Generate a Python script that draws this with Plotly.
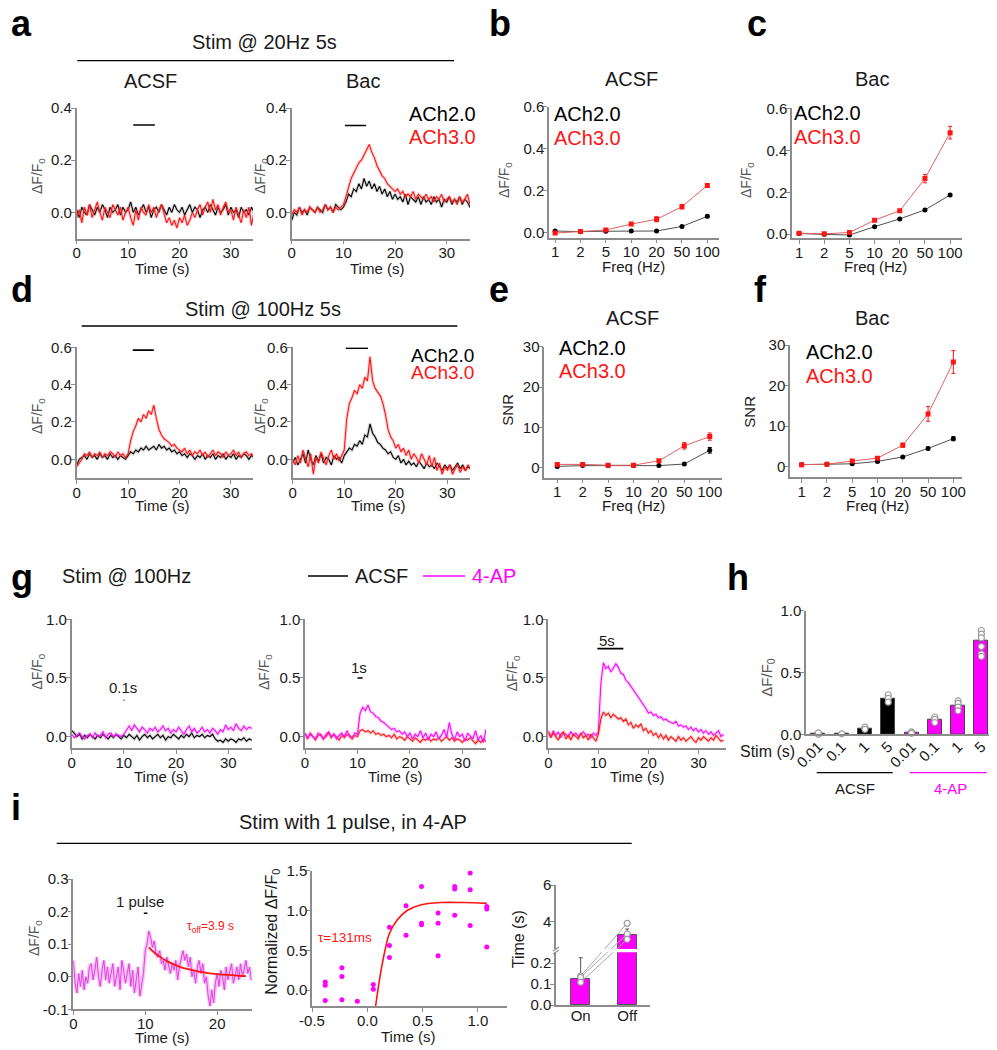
import plotly.graph_objects as go

# reference picture size and page offset (the page body has an 8px margin)
W, H = 997, 1050
OFF = 8
FW, FH = W - OFF, H - OFF
FONT = "Liberation Sans, Arial, sans-serif"
RED = "#ff1414"
MAG = "#ff00ff"
AXC = "#8c8c8c"
TXT = "#1a1a1a"
GRY = "#555555"

# ---------------- DATA ----------------
TIME_35 = [round(i * 0.5, 2) for i in range(71)]      # sampling grid, 0.5 s
TIME_25 = [round(i * 0.25, 2) for i in range(101)]    # sampling grid, 0.25 s

# panel a (20 Hz, 5 s)
A_ACSF_ACH2 = [0.01,-0.02,0.02,0.0,-0.01,0.03,0.01,-0.01,0.02,0.0,
               0.03,0.01,-0.02,0.02,0.0,0.01,0.03,-0.01,0.02,0.0,
               0.01,0.04,0.0,0.02,-0.01,0.01,0.03,0.0,0.02,-0.02,
               0.01,0.02,0.0,0.03,0.01,-0.01,0.02,0.0,0.03,0.01,
               0.0,0.02,-0.01,0.01,0.03,0.0,0.02,0.01,-0.02,0.01,
               0.02,0.0,0.03,0.01,-0.01,0.02,0.0,0.01,0.03,-0.01,
               0.02,0.0,0.01,-0.02,0.02,0.0,0.01,-0.01,0.02,0.0,0.01]
A_ACSF_ACH3 = [-0.02,0.01,-0.04,0.02,-0.01,0.03,-0.02,0.01,0.04,0.0,
               -0.03,0.02,0.0,-0.02,0.03,0.01,-0.01,0.02,-0.03,0.0,
               0.02,-0.02,-0.05,0.01,-0.03,0.02,0.0,-0.01,0.03,0.0,
               0.02,-0.02,0.01,0.03,-0.01,-0.04,-0.02,-0.05,-0.03,-0.06,
               -0.02,-0.04,-0.01,-0.05,-0.03,0.0,-0.02,0.01,0.03,-0.01,
               0.02,0.04,0.0,0.05,0.01,0.03,-0.01,0.02,0.04,0.0,
               0.01,-0.03,0.02,-0.01,-0.04,0.01,-0.02,0.02,-0.05,0.0,-0.03]
A_BAC_ACH2 = [-0.03,0.0,-0.01,0.02,0.0,0.01,-0.01,0.02,0.01,0.0,
              0.02,0.01,0.0,0.03,0.01,0.02,0.0,0.03,0.02,0.01,
              0.02,0.04,0.07,0.06,0.09,0.08,0.11,0.09,0.13,0.1,
              0.12,0.09,0.11,0.08,0.1,0.07,0.09,0.06,0.08,0.05,
              0.07,0.05,0.06,0.04,0.07,0.03,0.06,0.05,0.04,0.06,
              0.03,0.06,0.04,0.05,0.03,0.06,0.04,0.05,0.02,0.05,
              0.04,0.06,0.03,0.05,0.04,0.06,0.03,0.05,0.04,0.02,0.04]
A_BAC_ACH3 = [-0.01,0.01,0.0,0.02,-0.01,0.01,0.0,0.02,0.01,0.0,
              0.02,0.0,0.01,0.03,0.01,0.02,0.0,0.02,0.01,0.02,
              0.03,0.06,0.1,0.13,0.15,0.17,0.19,0.2,0.22,0.24,
              0.26,0.23,0.21,0.18,0.16,0.14,0.13,0.11,0.1,0.09,
              0.08,0.09,0.07,0.08,0.06,0.07,0.06,0.08,0.05,0.07,
              0.06,0.05,0.07,0.05,0.06,0.04,0.06,0.05,0.07,0.04,
              0.05,0.06,0.04,0.05,0.03,0.06,0.04,0.05,0.07,0.03,0.04]
A_STIM = [(11.0, 15.2, 0.335), (10.3, 14.4, 0.333)]

# panel d (100 Hz, 5 s)
D_ACSF_ACH2 = [-0.03,0.0,0.01,0.02,0.0,0.03,0.01,0.02,0.0,0.03,
               0.01,0.02,0.0,0.03,0.01,0.02,0.0,0.02,0.01,0.0,
               0.02,0.04,0.03,0.05,0.04,0.06,0.05,0.07,0.05,0.06,
               0.07,0.05,0.08,0.06,0.07,0.05,0.06,0.04,0.05,0.03,
               0.04,0.02,0.03,0.01,0.03,0.02,0.0,0.02,0.01,0.03,
               0.0,0.02,0.01,0.03,0.0,0.02,0.01,0.03,0.0,0.02,
               0.01,0.03,0.0,0.02,0.01,0.03,0.02,0.0,0.02,0.01,0.02]
D_ACSF_ACH3 = [-0.04,-0.02,0.0,0.03,0.02,0.04,0.01,0.03,0.02,0.04,
               0.01,0.03,0.02,0.04,0.03,0.01,0.04,0.02,0.03,0.01,
               0.03,0.1,0.15,0.18,0.22,0.2,0.24,0.22,0.26,0.24,
               0.29,0.22,0.16,0.13,0.11,0.1,0.09,0.07,0.08,0.06,
               0.05,0.04,0.06,0.03,0.05,0.02,0.04,0.03,0.05,0.02,
               0.04,0.01,0.03,0.05,0.02,0.04,0.03,0.01,0.04,0.02,
               0.03,0.05,0.02,0.04,0.01,0.03,0.04,0.02,0.03,0.01,0.03]
D_BAC_ACH2 = [-0.02,0.01,-0.03,0.0,0.03,-0.02,0.05,0.0,-0.03,0.02,
              -0.01,0.03,-0.02,0.01,0.0,-0.03,0.02,0.0,0.01,-0.02,
              0.02,0.04,0.06,0.05,0.08,0.07,0.1,0.08,0.13,0.12,
              0.19,0.14,0.12,0.09,0.08,0.06,0.05,0.03,0.04,0.01,
              0.0,0.02,-0.02,0.0,-0.03,-0.01,-0.03,-0.02,-0.04,-0.01,
              -0.03,-0.05,-0.02,-0.04,-0.03,-0.05,-0.02,-0.04,-0.06,-0.03,
              -0.05,-0.03,-0.06,-0.04,-0.02,-0.05,-0.03,-0.06,-0.04,-0.05,-0.06]
D_BAC_ACH3 = [0.0,-0.03,0.02,-0.02,0.05,0.0,-0.04,0.03,-0.08,0.01,
              -0.02,0.04,0.0,-0.03,0.02,0.05,0.0,0.03,-0.01,0.02,
              0.05,0.22,0.3,0.33,0.37,0.35,0.4,0.38,0.44,0.42,
              0.55,0.42,0.38,0.36,0.34,0.3,0.24,0.16,0.12,0.1,
              0.06,0.08,0.04,0.06,0.02,0.05,0.0,0.03,0.01,-0.02,
              0.03,0.0,-0.03,0.02,-0.04,0.01,-0.06,-0.02,-0.08,-0.04,
              -0.06,-0.03,-0.08,-0.05,-0.03,-0.07,-0.04,-0.06,-0.03,-0.05,-0.04]
D_STIM = [(10.9, 15.0, 0.585), (10.3, 14.6, 0.595)]

# panels b, c, e, f
FREQ_LABELS = ["1", "2", "5", "10", "20", "50", "100"]
B_ACH2 = [0.006, 0.003, 0.005, 0.006, 0.006, 0.028, 0.076]
B_ACH2_ERR = [0.003, 0.002, 0.002, 0.002, 0.002, 0.003, 0.006]
B_ACH3 = [-0.004, 0.004, 0.011, 0.039, 0.062, 0.122, 0.224]
B_ACH3_ERR = [0.003, 0.003, 0.004, 0.005, 0.012, 0.01, 0.005]
C_ACH2 = [0.003, 0.0, -0.004, 0.036, 0.073, 0.116, 0.187]
C_ACH2_ERR = [0.003, 0.002, 0.002, 0.003, 0.003, 0.004, 0.006]
C_ACH3 = [0.005, 0.002, 0.008, 0.067, 0.112, 0.265, 0.484]
C_ACH3_ERR = [0.004, 0.004, 0.005, 0.006, 0.005, 0.02, 0.03]
E_ACH2 = [0.3, 0.5, 0.5, 0.5, 0.5, 0.9, 4.3]
E_ACH2_ERR = [0.1, 0.1, 0.1, 0.1, 0.1, 0.2, 0.7]
E_ACH3 = [0.8, 0.8, 0.6, 0.6, 1.7, 5.4, 7.7]
E_ACH3_ERR = [0.2, 0.2, 0.2, 0.2, 0.3, 0.8, 0.9]
F_ACH2 = [0.5, 0.6, 0.7, 1.3, 2.4, 4.5, 6.9]
F_ACH2_ERR = [0.1, 0.1, 0.1, 0.2, 0.2, 0.3, 0.5]
F_ACH3 = [0.5, 0.6, 1.4, 2.1, 5.3, 13.0, 25.8]
F_ACH3_ERR = [0.1, 0.1, 0.3, 0.3, 0.5, 1.8, 2.8]

# panel g (100 Hz, 0.1 / 1 / 5 s)
G1_ACSF = [0.05,0.03,0.0,0.02,-0.02,0.01,-0.01,0.02,0.0,-0.02,
           0.01,-0.01,0.02,0.0,-0.02,0.01,-0.01,0.02,0.0,-0.02,
           0.01,-0.01,0.02,0.0,-0.02,0.01,-0.03,0.0,0.02,-0.01,
           0.01,-0.02,0.0,0.02,-0.01,0.01,-0.03,0.0,-0.01,0.02,
           0.0,-0.02,0.01,-0.01,0.02,0.0,0.03,-0.01,0.01,0.0,
           0.02,-0.01,0.01,0.0,0.02,-0.02,-0.04,-0.03,-0.05,-0.02,
           -0.04,-0.02,-0.03,-0.05,-0.02,-0.03,-0.01,-0.04,-0.02,-0.03,-0.04]
G1_4AP = [0.02,-0.01,0.01,0.03,0.0,-0.02,0.01,0.02,-0.01,0.03,
          0.0,0.01,0.04,-0.01,0.02,0.03,0.0,0.02,0.01,0.0,
          0.02,0.06,0.09,0.05,0.1,0.07,0.04,0.08,0.06,0.03,
          0.07,0.05,0.08,0.04,0.06,0.09,0.05,0.07,0.03,0.06,
          0.04,0.08,0.05,0.02,0.06,0.09,0.04,0.07,0.03,0.05,
          0.08,0.04,0.06,0.03,0.07,0.05,0.02,0.06,0.04,0.1,
          0.06,0.08,0.05,0.11,0.07,0.05,0.09,0.06,0.08,0.07,0.09]
G2_ACSF = [0.02,-0.02,0.03,0.0,-0.03,0.01,0.02,-0.02,0.0,0.03,
           -0.01,0.02,0.0,-0.03,0.01,-0.01,0.02,0.0,-0.02,0.01,
           0.0,0.05,0.06,0.04,0.05,0.03,0.05,0.02,0.03,0.01,
           0.02,0.0,0.01,-0.01,0.02,-0.02,0.0,-0.01,-0.03,0.0,
           -0.02,-0.04,-0.01,-0.03,-0.05,-0.02,-0.03,-0.01,-0.04,-0.02,
           -0.03,-0.01,-0.04,-0.02,0.0,-0.03,-0.01,-0.04,-0.02,-0.03,
           -0.05,-0.02,-0.03,-0.01,-0.04,-0.06,-0.03,-0.05,-0.02,-0.04,-0.03]
G2_4AP = [0.03,-0.01,0.02,0.0,-0.02,0.03,0.01,-0.02,0.02,0.04,
          0.0,0.02,-0.02,0.01,0.03,0.0,0.05,0.01,-0.01,0.03,
          0.02,0.2,0.25,0.22,0.27,0.21,0.2,0.17,0.16,0.13,
          0.12,0.1,0.08,0.06,0.07,0.04,0.05,0.02,0.04,0.0,
          0.03,-0.02,0.02,0.0,0.05,-0.01,0.03,-0.03,0.02,0.0,
          0.04,-0.02,0.01,0.06,-0.01,0.12,0.02,-0.03,0.04,0.0,
          0.02,-0.04,0.03,0.0,-0.02,0.05,-0.03,0.01,-0.05,0.06,0.02]
G3_ACSF = [0.05,-0.01,0.03,0.0,-0.03,0.02,0.04,-0.02,0.01,-0.03,
           0.02,0.0,-0.02,0.03,-0.01,0.01,-0.03,0.02,-0.01,-0.04,
           0.02,0.15,0.21,0.18,0.2,0.16,0.19,0.17,0.15,0.16,
           0.13,0.15,0.1,0.12,0.07,0.1,0.08,0.11,0.05,0.07,
           0.03,0.05,0.01,0.03,-0.01,0.02,-0.02,0.01,-0.03,0.0,
           -0.02,-0.04,0.0,-0.03,-0.01,-0.04,-0.02,0.0,-0.03,-0.05,
           -0.01,-0.03,0.0,-0.02,-0.04,-0.01,-0.03,0.01,-0.02,-0.04,-0.03]
G3_4AP = [0.03,0.0,0.05,0.01,0.04,-0.01,0.03,0.02,0.0,0.04,
          0.01,0.03,0.0,0.02,0.04,0.01,0.02,-0.01,0.03,0.01,
          0.04,0.45,0.63,0.58,0.6,0.55,0.58,0.62,0.59,0.54,
          0.53,0.48,0.46,0.43,0.4,0.36,0.34,0.3,0.28,0.24,
          0.2,0.21,0.18,0.19,0.16,0.17,0.14,0.15,0.13,0.12,
          0.11,0.13,0.09,0.1,0.08,0.09,0.06,0.08,0.05,0.07,
          0.04,0.06,0.03,0.05,0.02,0.04,0.01,0.03,0.05,0.0,0.02]
G_STIM = [(9.95, 10.1, 0.31), (10.0, 11.0, 0.50), (9.8, 15.0, 0.75)]

# panel h
H_LABELS = ["0.01", "0.1", "1", "5", "0.01", "0.1", "1", "5"]
H_MEAN = [0.002, 0.004, 0.045, 0.285, 0.012, 0.115, 0.235, 0.76]
H_ERR = [0.003, 0.002, 0.005, 0.015, 0.003, 0.008, 0.015, 0.04]
H_DOTS = [[0.0, 0.012], [0.004, -0.002], [0.058, 0.04], [0.32, 0.29, 0.26],
          [0.02, 0.008], [0.14, 0.12, 0.095], [0.27, 0.25, 0.22, 0.19],
          [0.84, 0.81, 0.78, 0.71, 0.65, 0.63]]

# panel i
I1_TRACE = [0.05,-0.02,-0.05,0.01,-0.03,0.02,-0.04,0.0,-0.02,0.03,
            0.04,-0.01,0.02,0.06,0.0,-0.03,0.02,0.05,-0.01,0.03,
            -0.02,0.01,0.04,-0.03,0.0,0.03,-0.04,0.05,0.02,-0.02,
            0.01,0.04,-0.03,0.02,-0.05,0.0,0.03,-0.06,-0.02,0.01,
            0.08,0.1,0.14,0.12,0.09,0.11,0.07,0.06,0.08,0.04,
            0.05,0.02,0.06,0.03,0.01,0.04,0.02,0.05,-0.01,0.03,
            0.06,0.08,0.05,0.07,0.03,0.06,0.0,0.02,-0.02,0.03,
            0.05,0.01,0.04,-0.02,0.0,-0.06,-0.09,-0.04,-0.08,-0.02,
            0.01,-0.03,0.02,0.0,-0.04,0.03,-0.01,0.02,0.04,-0.02,
            0.01,0.03,-0.01,0.04,0.0,0.02,0.05,0.01,0.03,-0.01,
            0.0]
I1_FIT_T = [10.5, 11, 11.5, 12, 13, 14, 15, 16, 17, 18, 19, 20, 21, 22, 23, 24]
I1_FIT_Y = [0.090, 0.079, 0.070, 0.062, 0.048, 0.038, 0.029, 0.023, 0.018,
            0.014, 0.010, 0.008, 0.006, 0.005, 0.003, 0.002]
I1_STIM = (9.8, 10.3, 0.195)
I2_T = [-0.38, -0.38, -0.38, -0.23, -0.23, -0.23, -0.09, 0.054, 0.054,
        0.2, 0.2, 0.2, 0.35, 0.35, 0.49, 0.49, 0.49, 0.64, 0.64, 0.64,
        0.79, 0.79, 0.79, 0.93, 0.93, 0.93, 1.08, 1.08, 1.08]
I2_Y = [0.10, 0.06, -0.13, 0.28, 0.17, -0.12, -0.14, 0.07, 0.01,
        0.79, 0.56, 0.41, 1.06, 0.69, 1.30, 0.84, 0.82, 0.97, 0.84, 0.43,
        1.30, 1.27, 0.94, 1.47, 1.26, 0.81, 1.05, 1.02, 0.54]
I2_FIT_T = [0.075, 0.115, 0.16, 0.2, 0.27, 0.36, 0.48, 0.66, 0.87, 1.08]
I2_FIT_Y = [-0.2, 0.17, 0.5, 0.71, 0.88, 1.0, 1.07, 1.1, 1.1, 1.09]
I3_LABELS = ["On", "Off"]
I3_MEAN = [0.125, 3.27]
I3_ERR = [0.10, 0.33]
I3_ON_DOTS = [0.138, 0.132, 0.108]
I3_OFF_DOTS = [3.91, 3.33, 3.04]

# ---------------- helpers ----------------
fig = go.Figure()
layout_axes = {}
ann = []
shapes = []


def PX(x):
    return (x - OFF) / FW


def PY(y):
    return 1 - (y - OFF) / FH


def xr(n):
    return "x" if n == 1 else f"x{n}"


def yr(n):
    return "y" if n == 1 else f"y{n}"


def axes(n, xpx, ypx, xrange, yrange, xt=None, xtt=None, yt=None, ytt=None,
         xfmt=None, yfmt=None, xticks="outside", xangle=None):
    key = "" if n == 1 else str(n)
    layout_axes[f"xaxis{key}"] = dict(
        domain=[PX(xpx[0]), PX(xpx[1])], range=xrange, anchor=yr(n),
        showline=True, linecolor=AXC, linewidth=1.5, ticks=xticks, ticklen=4,
        tickcolor=AXC, tickwidth=1.2, showgrid=False, zeroline=False,
        tickfont=dict(family=FONT, size=15, color=TXT), tickvals=xt,
        ticktext=xtt, tickformat=xfmt, tickangle=xangle, fixedrange=True,
        automargin=False, ticklabelstandoff=-4)
    layout_axes[f"yaxis{key}"] = dict(
        domain=[PY(ypx[1]), PY(ypx[0])], range=yrange, anchor=xr(n),
        showline=True, linecolor=AXC, linewidth=1.5, ticks="outside", ticklen=4,
        tickcolor=AXC, tickwidth=1.2, showgrid=False, zeroline=False,
        tickfont=dict(family=FONT, size=15, color=TXT), tickvals=yt,
        ticktext=ytt, tickformat=yfmt, fixedrange=True, automargin=False,
        ticklabelstandoff=-4)


def T(x, y, s, size=15, color=TXT, angle=0, bold=False, xa="center", ya="middle"):
    ann.append(dict(x=PX(x), y=PY(y), xref="paper", yref="paper",
                    text=f"<b>{s}</b>" if bold else s, showarrow=False,
                    font=dict(family=FONT, size=size, color=color),
                    textangle=angle, xanchor=xa, yanchor=ya))


def PL(x0, y0, x1, y1, color="black", width=1.3):
    shapes.append(dict(type="line", xref="paper", yref="paper", x0=PX(x0),
                       y0=PY(y0), x1=PX(x1), y1=PY(y1),
                       line=dict(color=color, width=width)))


def DL(n, x0, x1, y, color="black", width=1.6):
    shapes.append(dict(type="line", xref=xr(n), yref=yr(n), x0=x0, x1=x1,
                       y0=y, y1=y, line=dict(color=color, width=width)))


def trace(n, t, y, color, band, width=1.1, bw=3.2):
    fig.add_trace(go.Scatter(x=t, y=y, mode="lines", xaxis=xr(n), yaxis=yr(n),
                             line=dict(color=band, width=bw), hoverinfo="skip"))
    fig.add_trace(go.Scatter(x=t, y=y, mode="lines", xaxis=xr(n), yaxis=yr(n),
                             line=dict(color=color, width=width), hoverinfo="skip"))


def freq_plot(n, y2, e2, y3, e3):
    xs = list(range(len(FREQ_LABELS)))
    fig.add_trace(go.Scatter(x=xs, y=y2, mode="lines+markers", xaxis=xr(n), yaxis=yr(n),
                             line=dict(color="#505050", width=1),
                             marker=dict(color="black", size=5),
                             error_y=dict(type="data", array=e2, color="black",
                                          thickness=1, width=2)))
    fig.add_trace(go.Scatter(x=xs, y=y3, mode="lines+markers", xaxis=xr(n), yaxis=yr(n),
                             line=dict(color="#e06060", width=1),
                             marker=dict(color=RED, size=5, symbol="square"),
                             error_y=dict(type="data", array=e3, color=RED,
                                          thickness=1, width=2)))


BK_BAND = "rgba(120,120,120,0.3)"
RD_BAND = "rgba(255,100,100,0.3)"
MG_BAND = "rgba(255,100,255,0.28)"

T_TICKS = [0, 10, 20, 30]
FREQ_POS = list(range(len(FREQ_LABELS)))

# ---- panel a ----
axes(1, (76.7, 253), (108, 238.5), [0, 34.3], [-0.1, 0.4], xt=T_TICKS, yt=[0, 0.2, 0.4], yfmt=".1f")
axes(2, (291.7, 470), (108, 238.5), [0, 34.5], [-0.1, 0.4], xt=T_TICKS, yt=[0, 0.2, 0.4], yfmt=".1f")
trace(1, TIME_35, A_ACSF_ACH2, "black", BK_BAND)
trace(1, TIME_35, A_ACSF_ACH3, RED, RD_BAND)
trace(2, TIME_35, A_BAC_ACH2, "black", BK_BAND)
trace(2, TIME_35, A_BAC_ACH3, RED, RD_BAND)
for n, (s0, s1, yy) in zip([1, 2], A_STIM):
    DL(n, s0, s1, yy)

# ---- panels b, c ----
axes(3, (549, 719), (106.7, 237.5), [-0.24, 6.46], [-0.025, 0.6], xt=FREQ_POS, xtt=FREQ_LABELS,
     yt=[0, 0.2, 0.4, 0.6], yfmt=".1f")
axes(4, (792, 961.7), (108.3, 238), [-0.28, 6.46], [-0.018, 0.6], xt=FREQ_POS, xtt=FREQ_LABELS,
     yt=[0, 0.2, 0.4, 0.6], yfmt=".1f")
freq_plot(3, B_ACH2, B_ACH2_ERR, B_ACH3, B_ACH3_ERR)
freq_plot(4, C_ACH2, C_ACH2_ERR, C_ACH3, C_ACH3_ERR)

# ---- panel d ----
axes(5, (76.7, 253), (347.3, 478), [0, 34.3], [-0.1, 0.6], xt=T_TICKS, yt=[0, 0.2, 0.4, 0.6], yfmt=".1f")
axes(6, (292.7, 470), (347.3, 478), [0, 34.4], [-0.1, 0.6], xt=T_TICKS, yt=[0, 0.2, 0.4, 0.6], yfmt=".1f")
trace(5, TIME_35, D_ACSF_ACH2, "black", BK_BAND)
trace(5, TIME_35, D_ACSF_ACH3, RED, RD_BAND)
trace(6, TIME_35, D_BAC_ACH2, "black", BK_BAND)
trace(6, TIME_35, D_BAC_ACH3, RED, RD_BAND)
for n, (s0, s1, yy) in zip([5, 6], D_STIM):
    DL(n, s0, s1, yy)

# ---- panels e, f ----
axes(7, (544.3, 721.7), (346.7, 477.7), [-0.51, 6.47], [-2.5, 30], xt=FREQ_POS, xtt=FREQ_LABELS,
     yt=[0, 10, 20, 30])
axes(8, (790, 961.7), (345, 476.8), [-0.46, 6.33], [-2.5, 30], xt=FREQ_POS, xtt=FREQ_LABELS,
     yt=[0, 10, 20, 30])
freq_plot(7, E_ACH2, E_ACH2_ERR, E_ACH3, E_ACH3_ERR)
freq_plot(8, F_ACH2, F_ACH2_ERR, F_ACH3, F_ACH3_ERR)

# ---- panel g ----
axes(9, (71.7, 251.7), (619.3, 748.3), [0, 34.5], [-0.1, 1.0], xt=T_TICKS, yt=[0, 0.5, 1.0], yfmt=".1f")
axes(10, (305, 486), (619.3, 748.3), [0, 34.5], [-0.1, 1.0], xt=T_TICKS, yt=[0, 0.5, 1.0], yfmt=".1f")
axes(11, (548.3, 726), (619.3, 748.3), [0, 35.5], [-0.1, 1.0], xt=T_TICKS, yt=[0, 0.5, 1.0], yfmt=".1f")
trace(9, TIME_35, G1_ACSF, "black", BK_BAND)
trace(9, TIME_35, G1_4AP, MAG, MG_BAND)
trace(10, TIME_35, G2_ACSF, RED, RD_BAND)
trace(10, TIME_35, G2_4AP, MAG, MG_BAND)
trace(11, TIME_35, G3_4AP, MAG, MG_BAND)
trace(11, TIME_35, G3_ACSF, RED, RD_BAND)
for n, (s0, s1, yy) in zip([9, 10, 11], G_STIM):
    DL(n, s0, s1, yy, width=1.6)

# ---- panel h ----
HX = list(range(len(H_LABELS)))
axes(12, (806, 990), (610.7, 734.3), [-0.53, 7.37], [0, 1.0], xt=HX, xtt=H_LABELS,
     yt=[0, 0.5, 1.0], yfmt=".1f", xticks="", xangle=-45)
fig.add_trace(go.Bar(x=HX, y=H_MEAN, width=0.6, xaxis=xr(12), yaxis=yr(12),
                     marker=dict(color=["black"] * 4 + [MAG] * 4,
                                 line=dict(color="#444", width=1)),
                     error_y=dict(type="data", array=H_ERR, color="#444", thickness=1, width=2),
                     hoverinfo="skip"))
dx, dy = [], []
for i, vals in enumerate(H_DOTS):
    for v in vals:
        dx.append(i)
        dy.append(v)
fig.add_trace(go.Scatter(x=dx, y=dy, mode="markers", xaxis=xr(12), yaxis=yr(12), cliponaxis=False,
                         marker=dict(color="white", size=6, line=dict(color="#9a9a9a", width=1.2)),
                         hoverinfo="skip"))

# ---- panel i ----
axes(13, (73.3, 251.7), (879, 1009.3), [0, 24.8], [-0.1, 0.3], xt=[0, 10, 20],
     yt=[-0.1, 0, 0.1, 0.2, 0.3], ytt=["-0.1", "0.0", "0.1", "0.2", "0.3"])
fig.add_trace(go.Scatter(x=TIME_25, y=I1_TRACE, mode="lines", xaxis=xr(13), yaxis=yr(13),
                         line=dict(color="rgba(240,120,240,0.45)", width=4), hoverinfo="skip"))
fig.add_trace(go.Scatter(x=TIME_25, y=I1_TRACE, mode="lines", xaxis=xr(13), yaxis=yr(13),
                         line=dict(color="#e040e0", width=1), hoverinfo="skip"))
fig.add_trace(go.Scatter(x=I1_FIT_T, y=I1_FIT_Y, mode="lines", xaxis=xr(13), yaxis=yr(13),
                         line=dict(color=RED, width=1.8, shape="spline"), hoverinfo="skip"))
DL(13, I1_STIM[0], I1_STIM[1], I1_STIM[2], width=1.6)

axes(14, (312, 506.7), (870.7, 1006), [-0.5, 1.26], [-0.2, 1.5], xt=[-0.5, 0, 0.5, 1.0],
     xtt=["-0.5", "0.0", "0.5", "1.0"], yt=[0, 0.5, 1.0, 1.5], yfmt=".1f")
fig.add_trace(go.Scatter(x=I2_T, y=I2_Y, mode="markers", xaxis=xr(14), yaxis=yr(14),
                         marker=dict(color=MAG, size=5), hoverinfo="skip"))
fig.add_trace(go.Scatter(x=I2_FIT_T, y=I2_FIT_Y, mode="lines", xaxis=xr(14), yaxis=yr(14),
                         line=dict(color=RED, width=1.6, shape="spline"), hoverinfo="skip"))


# broken axis: 0-0.26 s below the break, ~2.4-6 s above it
def brk(v):
    return 10 * v if v < 0.3 else 3.967 + (v - 4) * 0.8735


axes(15, (556, 650), (885, 1005), [-0.53, 1.49], [0, brk(6)], xt=[0, 1], xtt=I3_LABELS,
     yt=[brk(v) for v in [0, 0.1, 0.2, 4, 6]], ytt=["0.0", "0.1", "0.2", "4", "6"], xticks="")
mean_d = [brk(v) for v in I3_MEAN]
err_d = [brk(m + e) - brk(m) for m, e in zip(I3_MEAN, I3_ERR)]
fig.add_trace(go.Bar(x=[0, 1], y=mean_d, width=0.4, xaxis=xr(15), yaxis=yr(15),
                     marker=dict(color=MAG, line=dict(color="#555", width=1)),
                     error_y=dict(type="data", array=err_d, arrayminus=[0, 0], color="#555",
                                  thickness=1, width=2), hoverinfo="skip"))
for a, b in zip(I3_ON_DOTS, I3_OFF_DOTS):
    fig.add_trace(go.Scatter(x=[0, 1], y=[brk(a), brk(b)], mode="lines", xaxis=xr(15), yaxis=yr(15),
                             line=dict(color="#a8a8a8", width=1), hoverinfo="skip"))
fig.add_trace(go.Scatter(x=[0] * 3 + [1] * 3, y=[brk(v) for v in I3_ON_DOTS + I3_OFF_DOTS],
                         mode="markers", xaxis=xr(15), yaxis=yr(15),
                         marker=dict(color="white", size=6, line=dict(color="#9a9a9a", width=1.2)),
                         hoverinfo="skip"))
# break band
shapes.append(dict(type="rect", xref="paper", yref="paper", x0=PX(552), x1=PX(650),
                   y0=PY(952.3), y1=PY(949.1), fillcolor="white", line=dict(width=0),
                   layer="above"))
PL(553, 954, 559, 950, AXC, 1.2)
PL(553, 951, 559, 947, AXC, 1.2)

# ---------------- texts ----------------
for ch, x, y in [("a", 9, 24), ("b", 487, 24), ("c", 745, 24), ("d", 9, 290),
                 ("e", 487, 289), ("f", 752, 290), ("g", 9, 577), ("h", 725, 577),
                 ("i", 9, 807)]:
    T(x, y, ch, 36, "black", bold=True, xa="left")

DF = "ΔF/F<sub>0</sub>"
# a
T(264, 42.5, "Stim @ 20Hz 5s", 20)
PL(77.3, 60.7, 454, 60.7)
T(150, 81, "ACSF", 20)
T(363.3, 81, "Bac", 20)
T(442, 114.3, "ACh2.0", 20, "black")
T(442, 137, "ACh3.0", 20, RED)
T(38, 176, DF, 14, GRY, -90)
T(261, 176, DF, 14, GRY, -90)
T(162, 268.3, "Time (s)", 15)
T(377, 268.3, "Time (s)", 15)
# b, c
T(631.7, 78.8, "ACSF", 20)
T(587, 114, "ACh2.0", 20, "black")
T(587, 138, "ACh3.0", 20, RED)
T(505, 180, DF, 14, GRY, -90)
T(633.3, 266.7, "Freq (Hz)", 15)
T(871.7, 79, "Bac", 20)
T(827, 113, "ACh2.0", 20, "black")
T(827, 137, "ACh3.0", 20, RED)
T(747, 180, DF, 14, GRY, -90)
T(875, 266.7, "Freq (Hz)", 15)
# d
T(262.5, 309, "Stim @ 100Hz 5s", 20)
PL(81.7, 326, 457.3, 326)
T(442, 355, "ACh2.0", 19, "black")
T(442, 372.5, "ACh3.0", 19, RED)
T(38, 416, DF, 14, GRY, -90)
T(261, 416, DF, 14, GRY, -90)
T(162, 506, "Time (s)", 15)
T(378, 506, "Time (s)", 15)
# e, f
T(632.5, 318, "ACSF", 20)
T(592, 347.5, "ACh2.0", 20, "black")
T(592, 370.8, "ACh3.0", 20, RED)
T(506.7, 410, "SNR", 15, TXT, -90)
T(633, 506, "Freq (Hz)", 15)
T(871.7, 318, "Bac", 20)
T(839, 351.7, "ACh2.0", 20, "black")
T(839, 375.8, "ACh3.0", 20, RED)
T(750, 411.7, "SNR", 15, TXT, -90)
T(877, 506, "Freq (Hz)", 15)
# g
T(126.5, 576, "Stim @ 100Hz", 20)
PL(308, 576, 348, 576, "black", 1.5)
T(381.7, 576, "ACSF", 20)
PL(423, 576, 465, 576, MAG, 1.5)
T(494, 576, "4-AP", 20, MAG)
T(37.7, 672, DF, 14, GRY, -90)
T(265, 672, DF, 14, GRY, -90)
T(513.3, 673, DF, 14, GRY, -90)
T(161, 776, "Time (s)", 15)
T(395, 776, "Time (s)", 15)
T(637, 776, "Time (s)", 15)
T(122.5, 687.5, "0.1s", 15)
T(359, 667, "1s", 15)
T(606.7, 640, "5s", 15)
# h
T(767.5, 751.5, "Stim (s)", 16)
PL(816.7, 772.7, 892.7, 772.7, "black", 1.3)
T(855, 788, "ACSF", 15)
PL(910, 772.7, 986.7, 772.7, MAG, 1.3)
T(950, 788, "4-AP", 15, MAG)
T(766.7, 677, DF, 15, GRY, -90)
# i
T(352.5, 821.7, "Stim with 1 pulse, in 4-AP", 20)
PL(56.7, 843.3, 631.7, 843.3)
T(140.3, 901, "1 pulse", 15)
T(210, 926.7, "τ<sub>off</sub>=3.9 s", 12, RED)
T(345, 937.5, "τ=131ms", 13.5, RED)
T(35, 938, DF, 14, GRY, -90)
T(271.7, 932, "Normalized ΔF/F<sub>0</sub>", 16, TXT, -90)
T(518.3, 939, "Time (s)", 16, TXT, -90)
T(161.7, 1037, "Time (s)", 15)
T(408, 1036, "Time (s)", 15)

fig.update_layout(width=FW, height=FH, margin=dict(l=0, r=0, t=0, b=0, autoexpand=False),
                  paper_bgcolor="white", plot_bgcolor="white", showlegend=False,
                  font=dict(family=FONT, color=TXT), annotations=ann, shapes=shapes,
                  bargap=0, **layout_axes)
fig.write_html("out.html")
